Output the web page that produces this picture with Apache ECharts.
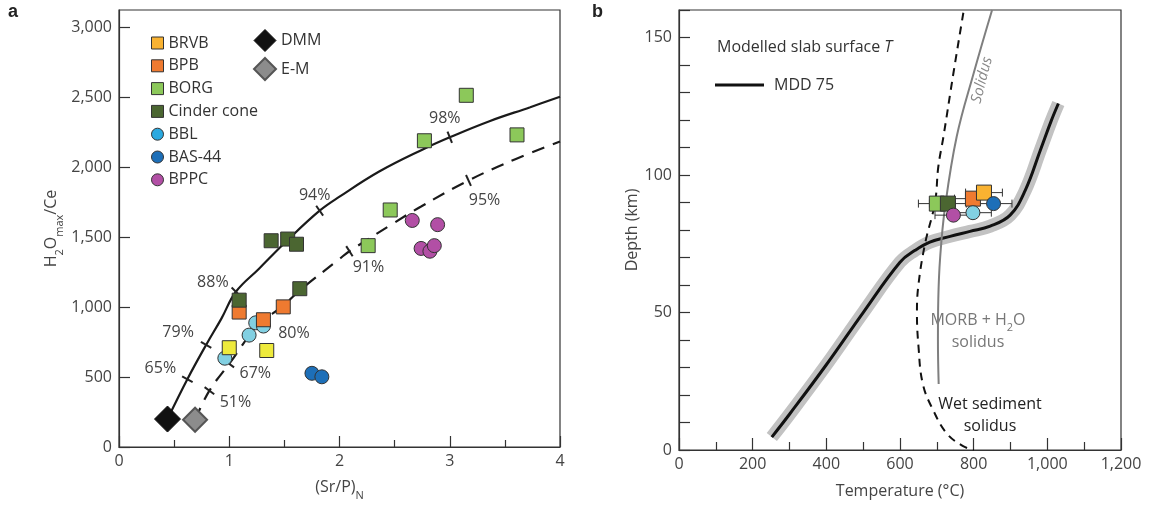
<!DOCTYPE html>
<html><head><meta charset="utf-8">
<script src="https://cdn.jsdelivr.net/npm/echarts@6/dist/echarts.min.js"></script>
<style>html,body{margin:0;padding:0;background:#fff}#c{width:1149px;height:506px}</style>
</head><body><div id="c"></div>
<script>
// ================= Panel a data: (Sr/P)N vs H2Omax/Ce =================
const brvbA   = [[1.00,710],[1.34,690]];
const bpbA    = [[1.09,965],[1.31,910],[1.49,1002]];
const borgA   = [[2.26,1440],[2.46,1695],[2.77,2190],[3.15,2515],[3.61,2232]];
const cinderA = [[1.09,1050],[1.38,1475],[1.53,1487],[1.61,1450],[1.64,1132]];
const bblA    = [[0.96,635],[1.18,800],[1.24,888],[1.31,865]];
const bas44A  = [[1.75,527],[1.84,502]];
const bppcA   = [[2.66,1620],[2.89,1590],[2.74,1420],[2.82,1400],[2.86,1440]];
const dmmA    = [[0.44,200]];
const emA     = [[0.69,195]];
const dmmCurve = [[0.44,200],[0.62,485],[0.79,730],[0.93,920],[1.06,1110],[1.27,1275],[1.53,1480],[1.82,1690],[2.0,1790],[2.36,1970],[2.76,2130],[3.0,2215],[3.36,2330],[3.73,2430],[4.0,2505]];
const emCurve  = [[0.69,195],[0.82,403],[1.0,595],[1.26,870],[1.49,1010],[1.64,1120],[2.0,1345],[2.09,1400],[2.49,1600],[2.74,1720],[3.17,1906],[3.6,2060],[4.0,2185]];
const dmmTicks = [[0.62,485],[0.79,730],[1.06,1110],[1.82,1690],[3.0,2215]];
const dmmTickLabels = ['65%','79%','88%','94%','98%'];
const emTicks  = [[0.82,403],[1.0,595],[1.26,870],[2.09,1400],[3.17,1906]];
const emTickLabels = ['51%','67%','80%','91%','95%'];
const xTicksA = [0,1,2,3,4];
const yTicksA = [0,500,1000,1500,2000,2500,3000];

// ================= Panel b data: Temperature (°C) vs Depth (km) =================
const mdd75 = [[252,4.7],[300,13],[400,31],[500,50],[600,68.3],[641,72.6],[681,75.6],[736,77.7],[790,79.5],[845,81.4],[899,85.4],[940,94.4],[981,109],[1010,119.5],[1030,126]];
const wetSedSolidus = [[772,159],[745,137],[718,114],[704,103],[695,90],[668,75],[650,60],[646,50],[650,38],[662,24],[690,14.5],[727,6],[770,1.5],[800,0]];
const morbSolidus = [[850,160],[800,137],[754,114],[722,88],[709,70],[704,55],[703,40],[705,24]];
const borgB   = [[700,89.6]];
const cinderB = [[730,89.6]];
const bpbB    = [[798,91.4]];
const brvbB   = [[828,93.6]];
const bblB    = [[798,86.3]];
const bas44B  = [[854,89.6]];
const bppcB   = [[745,85.4]];
const errT    = 50; // ± °C on each sample
const samplesB = [borgB, cinderB, bpbB, brvbB, bblB, bas44B, bppcB];

// ================= styles =================
const FONT = 'Open Sans';
const C = {
  brvbA:'#eeea3c', brvb:'#f9b231', bpb:'#ef7a30', borg:'#8cc85a', cinder:'#4b6631',
  bblA:'#82d0e2', bbl:'#2aa9e0', bas44:'#1d6fb8', bppc:'#b24fa5', dmm:'#111111', em:'#8c8c8c'
};
const fmtComma = v => String(v).replace(/\B(?=(\d{3})+(?!\d))/g, ',');

function scatter(name, data, color, symbol, size, xi, z, bc, bw) {
  return { type:'scatter', name, data, xAxisIndex:xi, yAxisIndex:xi, symbol, symbolSize:size, z: z||5,
    itemStyle:{color, borderColor:bc||'#333', borderWidth:bw||1, opacity:1}, emphasis:{disabled:true} };
}
function curveTicks(curve, ticks, labels, offsets) {
  return { type:'custom', xAxisIndex:0, yAxisIndex:0, data:ticks, encode:{x:0,y:1}, z:4,
    renderItem(params, api) {
      const x = api.value(0), y = api.value(1);
      const p = api.coord([x,y]);
      let i = 0; while (i < curve.length-2 && curve[i+1][0] <= x) i++;
      const a = api.coord(curve[i]), b = api.coord(curve[i+1]);
      let dx = b[0]-a[0], dy = b[1]-a[1]; const L = Math.hypot(dx,dy); dx/=L; dy/=L;
      const nx = -dy, ny = dx, h = 6;
      const off = offsets[params.dataIndex];
      return { type:'group', children:[
        {type:'line', shape:{x1:p[0]-nx*h, y1:p[1]-ny*h, x2:p[0]+nx*h, y2:p[1]+ny*h}, style:{stroke:'#222', lineWidth:2}},
        {type:'text', x:p[0]+off[0], y:p[1]+off[1], style:{text:labels[params.dataIndex], fill:'#444', font:`16px "${FONT}"`, align:'center', verticalAlign:'middle'}}
      ]};
    }};
}
const dmmLabelOffsets = [[-27,-11],[-28,-12],[-23,-9],[-5,-15],[-5,-19]];
const emLabelOffsets  = [[26,12],[26,10],[36,8],[19,16],[16,20]];

const axisLineStyle = {color:'#333', width:1.2};
const labelStyle = {fontSize:16, color:'#444', fontFamily:FONT};
const subRich = {
  sub:{fontSize:11, fontFamily:FONT, color:'#444', verticalAlign:'bottom', lineHeight:24, padding:[0,0,-2,0]},
  n:{fontSize:16, fontFamily:FONT, color:'#444', lineHeight:24}
};

const errorBars = { type:'custom', xAxisIndex:1, yAxisIndex:1, z:3,
  data: samplesB.map(s => [s[0][0], s[0][1], errT]), encode:{x:0,y:1},
  renderItem(params, api){
    const t=api.value(0), d=api.value(1), e=api.value(2);
    const a=api.coord([t-e,d]), b=api.coord([t+e,d]), cap=4;
    const st={stroke:'#333', lineWidth:1};
    return {type:'group', children:[
      {type:'line', shape:{x1:a[0],y1:a[1],x2:b[0],y2:b[1]}, style:st},
      {type:'line', shape:{x1:a[0],y1:a[1]-cap,x2:a[0],y2:a[1]+cap}, style:st},
      {type:'line', shape:{x1:b[0],y1:b[1]-cap,x2:b[0],y2:b[1]+cap}, style:st}
    ]};
  }};

const chart = echarts.init(document.getElementById('c'), null, {renderer:'canvas'});
chart.setOption({
  animation:false,
  backgroundColor:'#fff',
  textStyle:{fontFamily:FONT},
  grid:[
    {left:119, top:10, width:441, height:440, show:true, borderColor:'#333', borderWidth:1.2, backgroundColor:'transparent'},
    {left:679, top:10, width:442, height:440, show:true, borderColor:'#333', borderWidth:1.2, backgroundColor:'transparent'}
  ],
  xAxis:[
    {gridIndex:0, type:'value', min:0, max:4, interval:1,
     axisLine:{show:true, lineStyle:axisLineStyle}, axisTick:{show:true, inside:true, length:11, lineStyle:axisLineStyle},
     minorTick:{show:true, splitNumber:2, length:7, lineStyle:axisLineStyle}, splitLine:{show:false},
     axisLabel:{...labelStyle, margin:6, customValues:xTicksA},
     name:'{n|(Sr/P)}{sub|N}', nameLocation:'middle', nameGap:28, nameTextStyle:{rich:subRich}},
    {gridIndex:1, type:'value', min:0, max:1200, interval:200,
     axisLine:{show:true, lineStyle:axisLineStyle}, axisTick:{show:true, inside:true, length:12, lineStyle:axisLineStyle},
     minorTick:{show:true, splitNumber:2, length:8, lineStyle:axisLineStyle}, splitLine:{show:false},
     axisLabel:{...labelStyle, margin:6, formatter:v=>fmtComma(v)},
     name:'Temperature (°C)', nameLocation:'middle', nameGap:33, nameTextStyle:{fontSize:16, color:'#444', fontFamily:FONT}}
  ],
  yAxis:[
    {gridIndex:0, type:'value', min:0, max:3125, interval:500,
     axisLine:{show:true, lineStyle:axisLineStyle}, axisTick:{show:true, inside:true, length:11, lineStyle:axisLineStyle, customValues:yTicksA},
     splitLine:{show:false},
     axisLabel:{...labelStyle, margin:7, customValues:yTicksA, formatter:v=>fmtComma(v)},
     name:'{n|H}{sub|2}{n|O}{sub|max}{n|/Ce}', nameLocation:'middle', nameGap:56, nameTextStyle:{rich:subRich}},
    {gridIndex:1, type:'value', min:0, max:160, interval:10,
     axisLine:{show:true, lineStyle:axisLineStyle}, axisTick:{show:true, inside:true, length:11, lineStyle:axisLineStyle},
     splitLine:{show:false},
     axisLabel:{...labelStyle, margin:7, formatter:v=> v%50===0 ? String(v) : ''},
     name:'Depth (km)', nameLocation:'middle', nameGap:22, nameTextStyle:{fontSize:16, color:'#444', fontFamily:FONT}}
  ],
  legend:[
    {left:146, top:30, orient:'vertical', itemWidth:12, itemHeight:12, itemGap:6.8, selectedMode:false,
     textStyle:{fontSize:16, color:'#333', fontFamily:FONT},
     data:[
      {name:'BRVB', icon:'rect', itemStyle:{color:C.brvb, borderColor:'#333', borderWidth:1, opacity:1}},
      {name:'BPB', icon:'rect', itemStyle:{color:C.bpb, borderColor:'#333', borderWidth:1, opacity:1}},
      {name:'BORG', icon:'rect', itemStyle:{color:C.borg, borderColor:'#333', borderWidth:1, opacity:1}},
      {name:'Cinder cone', icon:'rect', itemStyle:{color:C.cinder, borderColor:'#333', borderWidth:1, opacity:1}},
      {name:'BBL', icon:'circle', itemStyle:{color:C.bbl, borderColor:'#333', borderWidth:1, opacity:1}},
      {name:'BAS-44', icon:'circle', itemStyle:{color:C.bas44, borderColor:'#333', borderWidth:1, opacity:1}},
      {name:'BPPC', icon:'circle', itemStyle:{color:C.bppc, borderColor:'#333', borderWidth:1, opacity:1}}
     ]},
    {left:248, top:24, orient:'vertical', itemWidth:22, itemHeight:22, itemGap:5, selectedMode:false,
     textStyle:{fontSize:16, color:'#333', fontFamily:FONT},
     data:[
      {name:'DMM', icon:'diamond', itemStyle:{color:C.dmm, borderColor:'#111', borderWidth:1, opacity:1}},
      {name:'E-M', icon:'diamond', itemStyle:{color:C.em, borderColor:'#555', borderWidth:2, opacity:1}}
     ]}
  ],
  graphic:[
    {type:'text', left:8, top:3, style:{text:'a', font:'bold 18px "Liberation Sans"', fill:'#222'}},
    {type:'text', left:592, top:3, style:{text:'b', font:'bold 18px "Liberation Sans"', fill:'#222'}},
    {type:'text', x:717, y:47, style:{text:'{n|Modelled slab surface }{i|T}', verticalAlign:'middle',
      rich:{n:{fontSize:16, fontFamily:FONT, fill:'#333'}, i:{fontSize:16, fontFamily:FONT, fontStyle:'italic', fill:'#333'}}}},
    {type:'line', shape:{x1:715, y1:85, x2:764, y2:85}, style:{stroke:'#111', lineWidth:3}},
    {type:'text', x:774, y:85, style:{text:'MDD 75', font:`16px "${FONT}"`, fill:'#333', verticalAlign:'middle'}},
    {type:'text', x:982, y:80, rotation:Math.atan2(165,42), style:{text:'Solidus', font:`italic 15px "${FONT}"`, fill:'#888', align:'center', verticalAlign:'middle'}},
    {type:'text', x:978, y:331, style:{text:'{n|MORB + H}{s|2}{n|O}\n{n|solidus}', align:'center', verticalAlign:'middle',
      rich:{n:{fontSize:16, fontFamily:FONT, fill:'#777', lineHeight:22, align:'center'}, s:{fontSize:11, fontFamily:FONT, fill:'#777', lineHeight:22, verticalAlign:'bottom', padding:[0,0,-2,0]}}}},
    {type:'text', x:990, y:415, style:{text:'Wet sediment\nsolidus', font:`16px "${FONT}"`, fill:'#222', align:'center', verticalAlign:'middle', lineHeight:22}}
  ],
  series:[
    // panel a lines
    {type:'line', name:'DMM mix', data:dmmCurve, xAxisIndex:0, yAxisIndex:0, smooth:0.4, showSymbol:false, z:2,
     lineStyle:{color:'#1a1a1a', width:2.2}, silent:true},
    {type:'line', name:'E-M mix', data:emCurve, xAxisIndex:0, yAxisIndex:0, smooth:0.4, showSymbol:false, z:2,
     lineStyle:{color:'#1a1a1a', width:2.2, type:[13,9]}, silent:true},
    curveTicks(dmmCurve, dmmTicks, dmmTickLabels, dmmLabelOffsets),
    curveTicks(emCurve, emTicks, emTickLabels, emLabelOffsets),
    // panel a points
    scatter('BBL', bblA, C.bblA, 'circle', 14, 0, 5),
    scatter('BRVB', brvbA, C.brvbA, 'rect', 14, 0, 5),
    scatter('BPB', bpbA, C.bpb, 'rect', 14, 0, 5),
    scatter('Cinder cone', cinderA, C.cinder, 'rect', 14, 0, 5),
    scatter('BORG', borgA, C.borg, 'rect', 14, 0, 5),
    scatter('BAS-44', bas44A, C.bas44, 'circle', 14, 0, 5),
    scatter('BPPC', bppcA, C.bppc, 'circle', 14, 0, 5),
    scatter('DMM', dmmA, C.dmm, 'diamond', [26,26], 0, 6, '#111', 1),
    scatter('E-M', emA, C.em, 'diamond', [24,24], 0, 6, '#555', 2),
    // panel b lines
    {type:'line', name:'MDD band', data:mdd75, xAxisIndex:1, yAxisIndex:1, smooth:0.4, showSymbol:false, z:1,
     lineStyle:{color:'#c2c2c2', width:13, cap:'butt'}, silent:true},
    {type:'line', name:'MDD 75', data:mdd75, xAxisIndex:1, yAxisIndex:1, smooth:0.4, showSymbol:false, z:2,
     lineStyle:{color:'#111', width:3}, silent:true},
    {type:'line', name:'Wet sediment solidus', data:wetSedSolidus, xAxisIndex:1, yAxisIndex:1, smooth:0.4, showSymbol:false, z:2,
     lineStyle:{color:'#111', width:2, type:[8,6]}, silent:true},
    {type:'line', name:'MORB solidus', data:morbSolidus, xAxisIndex:1, yAxisIndex:1, smooth:0.4, showSymbol:false, z:2,
     lineStyle:{color:'#7f7f7f', width:2}, silent:true},
    errorBars,
    // panel b points
    scatter('BORG', borgB, C.borg, 'rect', 15, 1, 5),
    scatter('Cinder cone', cinderB, C.cinder, 'rect', 15, 1, 5),
    scatter('BPB', bpbB, C.bpb, 'rect', 15, 1, 5),
    scatter('BRVB', brvbB, C.brvb, 'rect', 15, 1, 5),
    scatter('BBL', bblB, C.bblA, 'circle', 14, 1, 5),
    scatter('BAS-44', bas44B, C.bas44, 'circle', 14, 1, 5),
    scatter('BPPC', bppcB, C.bppc, 'circle', 14, 1, 5)
  ]
});
</script></body></html>
